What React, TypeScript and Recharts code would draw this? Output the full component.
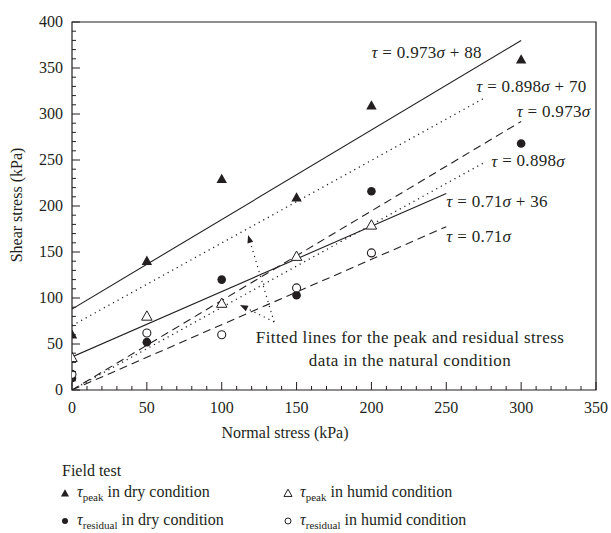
import React from "react";
import {
  ComposedChart,
  Line,
  Scatter,
  XAxis,
  YAxis,
  ReferenceArea,
  ReferenceLine,
  ReferenceDot,
} from "recharts";

const INK = "#231f20";
const FONT = `"Liberation Serif", "DejaVu Serif", serif`;

// the chart fills the whole 611x533 page
if (typeof document !== "undefined") document.body.style.margin = "0";

// field test data (kPa)
const normalStress = [0, 50, 100, 150, 200, 300];
const dryPeak = [60, 140, 229, 209, 309, 359];
const dryResidual = [13, 52, 120, 103, 216, 268];
const humidStress = [0, 50, 100, 150, 200];
const humidPeak = [35, 80, 94, 145, 179];
const humidResidual = [17, 62, 60, 111, 149];

// fitted lines: tau = slope * sigma + intercept
const fitSlopes = [0.973, 0.898, 0.973, 0.898, 0.71, 0.71];
const fitIntercepts = [88, 70, 0, 0, 36, 0];
const fitEnds = [300, 275, 300, 275, 250, 250];
const fitStyles = ["solid", "dotted", "dashed", "dotted", "solid", "dashed"];
const fitLabels = ["0.973", "0.898", "0.973", "0.898", "0.71", "0.71"];
// where each equation text starts (data units)
const labelX = [200, 270, 297, 280, 250, 250];
const labelY = [367, 330, 303, 249, 205, 167];

const xTicks = [0, 50, 100, 150, 200, 250, 300, 350];
const yTicks = [0, 50, 100, 150, 200, 250, 300, 350, 400];
const xAllTicks: number[] = [];
for (let v = 0; v <= 350; v += 10) xAllTicks.push(v);
const yAllTicks: number[] = [];
for (let v = 0; v <= 400; v += 10) yAllTicks.push(v);

const toPoints = (xs: number[], ys: number[]) => xs.map((x, i) => ({ x, y: ys[i] }));

const dash: Record<string, string | undefined> = {
  solid: undefined,
  dashed: "8 5",
  dotted: "1.2 4",
};

const XTick = (props: any) => {
  const { x, y, payload } = props;
  const v = payload.value;
  const major = v % 50 === 0;
  return (
    <g>
      <line x1={x} x2={x} y1={y} y2={y - (major ? 8 : 4)} stroke={INK} strokeWidth={1} />
      {major && xTicks.includes(v) && (
        <text x={x} y={y + 17} textAnchor="middle" dominantBaseline="central" style={{ fontFamily: FONT }} fontSize={16} fill={INK}>
          {v}
        </text>
      )}
    </g>
  );
};

const YTick = (props: any) => {
  const { x, y, payload } = props;
  const v = payload.value;
  const major = v % 50 === 0;
  return (
    <g>
      <line x1={x} x2={x + (major ? 8 : 4)} y1={y} y2={y} stroke={INK} strokeWidth={1} />
      {major && yTicks.includes(v) && (
        <text x={x - 9} y={y - 1} textAnchor="end" dominantBaseline="central" style={{ fontFamily: FONT }} fontSize={16} fill={INK}>
          {v}
        </text>
      )}
    </g>
  );
};

const triangle = (cx: number, cy: number, s: number) =>
  `${cx},${cy - s * 0.62} ${cx - s * 0.58},${cy + s * 0.42} ${cx + s * 0.58},${cy + s * 0.42}`;

const FilledTriangle = (p: any) => <polygon points={triangle(p.cx, p.cy, 9)} fill={INK} />;
const OpenTriangle = (p: any) => (
  <polygon points={triangle(p.cx, p.cy, 9)} fill="#fff" stroke={INK} strokeWidth={1} />
);
const FilledCircle = (p: any) => <circle cx={p.cx} cy={p.cy} r={4.3} fill={INK} />;
const OpenCircle = (p: any) => <circle cx={p.cx} cy={p.cy} r={4} fill="#fff" stroke={INK} strokeWidth={1.1} />;

const Arrow = (p: any) => {
  const { x1, y1, x2, y2 } = p;
  const ang = Math.atan2(y2 - y1, x2 - x1);
  const len = 8;
  const w = 3;
  const bx = x2 - len * Math.cos(ang);
  const by = y2 - len * Math.sin(ang);
  const nx = -Math.sin(ang) * w;
  const ny = Math.cos(ang) * w;
  return (
    <g>
      <line x1={x1} y1={y1} x2={bx} y2={by} stroke={INK} strokeWidth={1.2} strokeDasharray="1.2 4" />
      <polygon points={`${x2},${y2} ${bx + nx},${by + ny} ${bx - nx},${by - ny}`} fill={INK} />
    </g>
  );
};

const EquationLabel = (slope: string, intercept: number) => (p: any) => (
  <text
    x={p.cx}
    y={p.cy}
    dominantBaseline="central"
    style={{ fontFamily: FONT, letterSpacing: 0.3 }}
    fontSize={17}
    fill={INK}
  >
    <tspan fontStyle="italic">τ</tspan>
    {` = ${slope}`}
    <tspan fontStyle="italic">σ</tspan>
    {intercept ? ` + ${intercept}` : ""}
  </text>
);

const Tau = ({ sub }: { sub: string }) => (
  <span>
    <i>τ</i>
    <sub style={{ fontSize: 11, verticalAlign: "-4px" }}>{sub}</sub>
  </span>
);

const legendMarker = (kind: string) => {
  const s = 10;
  return (
    <svg width={s} height={s} style={{ position: "absolute", left: -5, top: 5 }}>
      {kind === "ft" && <polygon points={triangle(5, 5.5, 7)} fill={INK} />}
      {kind === "ot" && <polygon points={triangle(5, 5.5, 7)} fill="#fff" stroke={INK} strokeWidth={1} />}
      {kind === "fc" && <circle cx={5} cy={5} r={3} fill={INK} />}
      {kind === "oc" && <circle cx={5} cy={5} r={3} fill="#fff" stroke={INK} strokeWidth={1} />}
    </svg>
  );
};

const legendItems = [
  { kind: "ft", sub: "peak", text: " in dry condition", left: 65, top: 483 },
  { kind: "ot", sub: "peak", text: " in humid condition", left: 288, top: 483 },
  { kind: "fc", sub: "residual", text: " in dry condition", left: 65, top: 511 },
  { kind: "oc", sub: "residual", text: " in humid condition", left: 288, top: 511 },
];

export default function App() {
  return (
    <div
      style={{
        position: "relative",
        width: 611,
        height: 533,
        overflow: "hidden",
        fontFamily: FONT,
        color: INK,
        background: "#fff",
      }}
    >
      <ComposedChart width={611} height={533} margin={{ top: 22, right: 15, bottom: 113, left: 0 }}>
        <XAxis
          type="number"
          dataKey="x"
          domain={[0, 350]}
          ticks={xAllTicks}
          interval={0}
          tick={<XTick />}
          tickSize={0}
          tickMargin={0}
          axisLine={false}
          tickLine={false}
          height={30}
          allowDataOverflow
        />
        <YAxis
          type="number"
          domain={[0, 400]}
          ticks={yAllTicks}
          interval={0}
          tick={<YTick />}
          tickSize={0}
          tickMargin={0}
          axisLine={false}
          tickLine={false}
          width={72}
          allowDataOverflow
        />
        <ReferenceArea x1={0} x2={350} y1={0} y2={400} fill="none" stroke={INK} strokeWidth={1.2} fillOpacity={0} />
        {fitSlopes.map((m, i) => (
          <Line
            key={`fit-${i}`}
            data={[
              { x: 0, y: fitIntercepts[i] },
              { x: fitEnds[i], y: m * fitEnds[i] + fitIntercepts[i] },
            ]}
            dataKey="y"
            stroke={INK}
            strokeWidth={fitStyles[i] === "dotted" ? 1.3 : 1.1}
            strokeDasharray={dash[fitStyles[i]]}
            dot={false}
            activeDot={false}
            isAnimationActive={false}
          />
        ))}
        <ReferenceLine
          segment={[
            { x: 135, y: 74 },
            { x: 117.6, y: 168.5 },
          ]}
          shape={Arrow}
        />
        <ReferenceLine
          segment={[
            { x: 135, y: 74 },
            { x: 112.2, y: 92.4 },
          ]}
          shape={Arrow}
        />
        <Scatter data={toPoints(normalStress, dryPeak)} dataKey="y" shape={FilledTriangle} isAnimationActive={false} />
        <Scatter data={toPoints(normalStress, dryResidual)} dataKey="y" shape={FilledCircle} isAnimationActive={false} />
        <Scatter data={toPoints(humidStress, humidPeak)} dataKey="y" shape={OpenTriangle} isAnimationActive={false} />
        <Scatter data={toPoints(humidStress, humidResidual)} dataKey="y" shape={OpenCircle} isAnimationActive={false} />
        {fitLabels.map((s, i) => (
          <ReferenceDot
            key={`lbl-${i}`}
            x={labelX[i]}
            y={labelY[i]}
            r={0}
            shape={EquationLabel(s, fitIntercepts[i])}
          />
        ))}
      </ComposedChart>

      <div
        style={{
          position: "absolute",
          left: 230,
          top: 326,
          width: 360,
          textAlign: "center",
          fontSize: 17,
          letterSpacing: 0.4,
          lineHeight: "23px",
        }}
      >
        Fitted lines for the peak and residual stress
        <br />
        data in the natural condition
      </div>

      <div
        style={{
          position: "absolute",
          left: 17,
          top: 205,
          transform: "translate(-50%, -50%) rotate(-90deg)",
          fontSize: 16,
          whiteSpace: "nowrap",
        }}
      >
        Shear stress (kPa)
      </div>
      <div
        style={{
          position: "absolute",
          left: 285,
          top: 433,
          transform: "translate(-50%, -50%)",
          fontSize: 16,
          whiteSpace: "nowrap",
        }}
      >
        Normal stress (kPa)
      </div>

      <div style={{ position: "absolute", left: 62, top: 462, fontSize: 16 }}>Field test</div>
      {legendItems.map((it, i) => (
        <div key={i} style={{ position: "absolute", left: it.left, top: it.top, fontSize: 16, whiteSpace: "nowrap" }}>
          {legendMarker(it.kind)}
          <span style={{ marginLeft: 12 }}>
            <Tau sub={it.sub} />
            {it.text}
          </span>
        </div>
      ))}
    </div>
  );
}
